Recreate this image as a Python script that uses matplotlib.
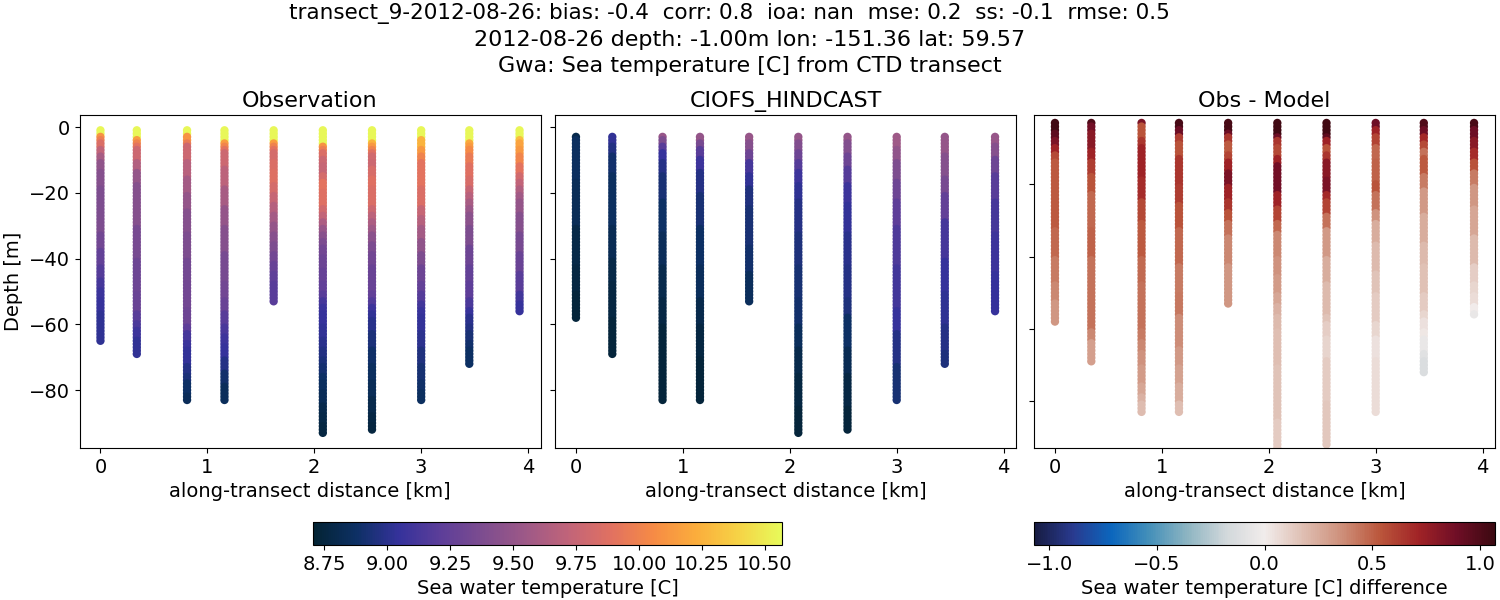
import numpy as np
import matplotlib
matplotlib.use('Agg')
import matplotlib.pyplot as plt
from matplotlib.colors import LinearSegmentedColormap

# colour anchors for cmocean thermal / balance (cmocean not available here)
thermal_rgb = [(3, 35, 51), (13, 48, 100), (53, 50, 155), (93, 62, 153), (126, 77, 143), (158, 89, 135),
               (193, 100, 121), (225, 113, 97), (246, 139, 69), (251, 173, 60), (246, 211, 70), (231, 250, 90)]
balance_rgb = [(23, 28, 66), (41, 58, 143), (11, 102, 189), (69, 144, 185), (142, 181, 194), (210, 216, 219),
               (241, 236, 235), (223, 191, 179), (206, 144, 123), (187, 87, 60), (161, 36, 38), (112, 14, 38), (60, 9, 17)]

distance = [0.0, 0.34, 0.81, 1.16, 1.62, 2.08, 2.54, 3.0, 3.45, 3.92]

# each cast is in bands: value holds from the previous bottom down to this bottom, 1 m levels
obs_bottom = [
    [2, 3, 4, 6, 8, 10, 13, 18, 32, 37, 42, 46, 49, 52, 56, 65],
    [3, 4, 5, 6, 10, 13, 17, 30, 40, 50, 56, 59, 61, 64, 69],
    [2, 4, 5, 10, 15, 20, 25, 32, 40, 47, 55, 60, 62, 65, 67, 72, 75, 77, 81, 83],
    [4, 5, 6, 7, 12, 18, 24, 30, 38, 47, 52, 56, 60, 63, 66, 70, 74, 78, 83],
    [4, 5, 6, 7, 10, 13, 17, 20, 23, 26, 29, 32, 35, 38, 41, 44, 47, 53],
    [5, 6, 7, 9, 11, 14, 16, 19, 24, 26, 28, 30, 32, 34, 36, 39, 43, 47, 50, 52, 54, 56, 60, 64, 67, 70, 72, 75, 77, 80, 84, 87, 90, 93],
    [4, 5, 6, 7, 8, 10, 12, 15, 18, 24, 26, 28, 30, 32, 35, 38, 42, 47, 50, 52, 54, 56, 58, 62, 67, 72, 77, 82, 87, 90, 92],
    [3, 6, 8, 10, 14, 18, 24, 27, 30, 34, 38, 42, 47, 50, 53, 55, 57, 62, 67, 72, 77, 80, 83],
    [4, 5, 6, 8, 11, 15, 18, 20, 22, 24, 26, 30, 36, 42, 47, 52, 55, 57, 60, 62, 65, 67, 72],
    [3, 4, 6, 8, 11, 14, 16, 18, 20, 22, 26, 32, 38, 44, 50, 53, 56],
]
obs_temp = [
    [10.55, 10.1, 9.98, 9.85, 9.72, 9.6, 9.48, 9.42, 9.38, 9.32, 9.25, 9.18, 9.12, 9.07, 9.05, 9.02],
    [10.55, 10.15, 10.0, 9.9, 9.78, 9.65, 9.5, 9.42, 9.35, 9.3, 9.28, 9.2, 9.14, 9.08, 9.03],
    [10.55, 10.1, 9.95, 9.78, 9.68, 9.58, 9.5, 9.42, 9.38, 9.33, 9.32, 9.3, 9.22, 9.12, 9.07, 9.04, 8.98, 8.94, 8.88, 8.84],
    [10.55, 10.15, 10.02, 9.9, 9.78, 9.7, 9.6, 9.5, 9.42, 9.35, 9.32, 9.28, 9.2, 9.13, 9.08, 9.05, 8.98, 8.9, 8.85],
    [10.55, 10.15, 10.0, 9.9, 9.82, 9.85, 9.87, 9.82, 9.75, 9.66, 9.58, 9.5, 9.43, 9.38, 9.32, 9.27, 9.23, 9.2],
    [10.55, 10.1, 9.98, 9.85, 9.77, 9.75, 9.82, 9.9, 9.87, 9.8, 9.73, 9.62, 9.52, 9.44, 9.37, 9.32, 9.29, 9.26, 9.24, 9.2, 9.12, 9.07, 9.05, 9.03, 9.0, 8.97, 8.94, 8.91, 8.88, 8.86, 8.83, 8.8, 8.78, 8.76],
    [10.55, 10.25, 10.12, 10.0, 9.88, 9.8, 9.78, 9.84, 9.88, 9.85, 9.78, 9.7, 9.62, 9.55, 9.45, 9.37, 9.32, 9.28, 9.27, 9.24, 9.17, 9.08, 9.03, 8.99, 8.94, 8.89, 8.86, 8.83, 8.8, 8.77, 8.75],
    [10.55, 10.25, 10.12, 10.0, 9.9, 9.9, 9.85, 9.75, 9.67, 9.58, 9.48, 9.38, 9.3, 9.25, 9.18, 9.1, 9.06, 9.04, 9.01, 8.96, 8.92, 8.89, 8.86],
    [10.55, 10.2, 10.13, 10.05, 9.95, 9.88, 9.84, 9.75, 9.68, 9.6, 9.53, 9.45, 9.38, 9.3, 9.25, 9.22, 9.14, 9.06, 9.0, 8.97, 8.93, 8.9, 8.87],
    [10.55, 10.3, 10.18, 10.12, 10.02, 9.9, 9.8, 9.72, 9.64, 9.57, 9.5, 9.42, 9.35, 9.28, 9.2, 9.1, 9.05],
]

model_bottom = [
    [3, 16, 30, 42, 50, 58],
    [5, 8, 14, 30, 40, 47, 58, 69],
    [3, 5, 7, 10, 14, 22, 32, 42, 52, 60, 83],
    [4, 6, 9, 13, 20, 30, 42, 52, 60, 70, 83],
    [4, 7, 10, 14, 18, 24, 36, 44, 53],
    [4, 7, 10, 13, 17, 22, 32, 42, 52, 60, 67, 75, 85, 93],
    [4, 8, 12, 17, 23, 32, 42, 52, 57, 67, 75, 85, 92],
    [6, 10, 16, 22, 30, 42, 55, 62, 72, 83],
    [8, 15, 20, 28, 40, 50, 60, 68, 72],
    [5, 9, 14, 22, 32, 44, 56],
]
model_temp = [
    [8.8, 8.86, 8.83, 8.78, 8.76, 8.74],
    [9.03, 8.97, 8.9, 8.86, 8.82, 8.78, 8.76, 8.74],
    [9.52, 9.38, 9.2, 9.05, 8.98, 8.93, 8.88, 8.84, 8.8, 8.77, 8.74],
    [9.5, 9.35, 9.2, 9.08, 8.98, 8.93, 8.88, 8.85, 8.8, 8.76, 8.74],
    [9.52, 9.42, 9.3, 9.12, 9.03, 8.96, 8.93, 8.9, 8.85],
    [9.5, 9.4, 9.3, 9.18, 9.08, 9.02, 8.98, 8.95, 8.92, 8.9, 8.85, 8.8, 8.76, 8.74],
    [9.5, 9.4, 9.3, 9.18, 9.08, 9.04, 9.0, 8.98, 8.95, 8.88, 8.82, 8.77, 8.74],
    [9.55, 9.48, 9.38, 9.3, 9.22, 9.15, 9.1, 9.05, 8.98, 8.92],
    [9.5, 9.42, 9.35, 9.25, 9.12, 9.05, 9.02, 8.98, 8.95],
    [9.52, 9.42, 9.3, 9.2, 9.12, 9.08, 9.05],
]

diff_bottom = [
    [5, 7, 9, 11, 13, 32, 40, 47, 52, 58],
    [3, 5, 10, 13, 17, 22, 32, 40, 60, 63, 69],
    [3, 7, 9, 18, 24, 30, 40, 47, 60, 63, 66, 70, 75, 78, 80, 83],
    [4, 6, 8, 12, 20, 25, 32, 42, 50, 56, 65, 70, 75, 80, 83],
    [5, 6, 8, 11, 13, 16, 20, 24, 27, 30, 34, 42, 53],
    [6, 7, 9, 12, 14, 22, 26, 30, 33, 40, 45, 50, 53, 56, 60, 70, 85, 93],
    [6, 7, 9, 11, 13, 18, 22, 24, 28, 32, 40, 47, 56, 58, 62, 68, 80, 92],
    [4, 6, 9, 13, 19, 22, 27, 30, 36, 44, 50, 58, 62, 68, 83],
    [4, 6, 8, 10, 12, 17, 21, 28, 36, 42, 50, 55, 57, 60, 62, 66, 68, 72],
    [4, 7, 10, 13, 16, 20, 26, 34, 42, 47, 50, 53, 55, 56],
]
diff_temp = [
    [1.05, 0.95, 0.85, 0.72, 0.58, 0.52, 0.48, 0.42, 0.38, 0.33],
    [1.0, 0.88, 0.8, 0.72, 0.62, 0.55, 0.48, 0.5, 0.45, 0.38, 0.3],
    [0.85, 0.55, 0.65, 0.72, 0.68, 0.58, 0.52, 0.47, 0.45, 0.42, 0.38, 0.35, 0.31, 0.27, 0.23, 0.19],
    [1.02, 0.9, 0.62, 0.55, 0.65, 0.62, 0.55, 0.48, 0.42, 0.43, 0.36, 0.32, 0.29, 0.25, 0.18],
    [1.02, 0.9, 0.65, 0.52, 0.6, 0.72, 0.85, 0.72, 0.65, 0.55, 0.45, 0.38, 0.33],
    [1.05, 0.9, 0.65, 0.58, 0.72, 0.88, 0.72, 0.6, 0.48, 0.38, 0.35, 0.31, 0.27, 0.23, 0.2, 0.18, 0.16, 0.13],
    [1.05, 0.95, 0.72, 0.55, 0.65, 0.8, 0.85, 0.7, 0.6, 0.45, 0.32, 0.25, 0.2, 0.16, 0.12, 0.1, 0.13, 0.15],
    [0.9, 0.72, 0.6, 0.48, 0.5, 0.55, 0.45, 0.35, 0.25, 0.2, 0.16, 0.13, 0.09, 0.05, 0.06],
    [1.0, 0.9, 0.7, 0.58, 0.45, 0.52, 0.42, 0.32, 0.25, 0.2, 0.17, 0.13, 0.09, 0.05, 0.02, -0.05, -0.1, -0.13],
    [1.02, 0.9, 0.8, 0.68, 0.55, 0.42, 0.33, 0.27, 0.2, 0.12, 0.09, 0.06, 0.0, -0.05],
]

obs_top = 1
model_top = 3

title_line1 = 'transect_9-2012-08-26: bias: -0.4  corr: 0.8  ioa: nan  mse: 0.2  ss: -0.1  rmse: 0.5'
title_line2 = '2012-08-26 depth: -1.00m lon: -151.36 lat: 59.57'
title_line3 = 'Gwa: Sea temperature [C] from CTD transect'


def make_cmap(name, rgb):
    return LinearSegmentedColormap.from_list(name, [(r / 255, g / 255, b / 255) for r, g, b in rgb], N=256)


def expand(bottoms, values, top):
    # turn the bands into one point per metre, x/y/c for scatter
    xs, ys, cs = [], [], []
    for x, bot, val in zip(distance, bottoms, values):
        prev = top - 1
        for b, v in zip(bot, val):
            for d in range(prev + 1, b + 1):
                xs.append(x)
                ys.append(-d)
                cs.append(v)
            prev = b
    return xs, ys, cs


def px_axes(fig, x0, y0, x1, y1):
    return fig.add_axes([x0 / 1500, 1 - y1 / 600, (x1 - x0) / 1500, (y1 - y0) / 600])


plt.rcParams['font.size'] = 14

thermal = make_cmap('thermal', thermal_rgb)
balance = make_cmap('balance', balance_rgb)

fig = plt.figure(figsize=(15, 6), dpi=100)
ax1 = px_axes(fig, 79.5, 115, 540.5, 448)
ax2 = px_axes(fig, 555, 115, 1016, 448)
ax3 = px_axes(fig, 1034, 115, 1495, 448)

x, y, c = expand(obs_bottom, obs_temp, obs_top)
sc1 = ax1.scatter(x, y, c=c, cmap=thermal, vmin=8.706, vmax=10.567, s=36, linewidths=0)
x, y, c = expand(model_bottom, model_temp, model_top)
ax2.scatter(x, y, c=c, cmap=thermal, vmin=8.706, vmax=10.567, s=36, linewidths=0)
x, y, c = expand(diff_bottom, diff_temp, model_top)
sc3 = ax3.scatter(x, y, c=c, cmap=balance, vmin=-1.07, vmax=1.07, s=36, linewidths=0)

for ax in (ax1, ax2, ax3):
    ax.set_xlim(-0.196, 4.116)
    ax.set_xlabel('along-transect distance [km]')
ax1.set_ylim(-97.6, 3.65)
ax2.set_ylim(-97.6, 3.65)
ax3.set_ylim(-93, -0.8)
ax3.set_yticks([-80, -60, -40, -20])
ax1.set_yticks([-80, -60, -40, -20, 0])
ax2.set_yticks([-80, -60, -40, -20, 0])
ax2.set_yticklabels([])
ax3.set_yticklabels([])
ax1.set_ylabel('Depth [m]')

ax1.set_title('Observation', fontsize=16)
ax2.set_title('CIOFS_HINDCAST', fontsize=16)
ax3.set_title('Obs - Model', fontsize=16)

cax1 = px_axes(fig, 313, 522, 782, 545)
cb1 = fig.colorbar(sc1, cax=cax1, orientation='horizontal')
cb1.set_ticks([8.75, 9.0, 9.25, 9.5, 9.75, 10.0, 10.25, 10.5])
cb1.set_label('Sea water temperature [C]')

cax2 = px_axes(fig, 1034, 522, 1495, 545)
cb2 = fig.colorbar(sc3, cax=cax2, orientation='horizontal')
cb2.set_ticks([-1.0, -0.5, 0.0, 0.5, 1.0])
cb2.set_label('Sea water temperature [C] difference')

fig.text(729 / 1500, 1 - 14 / 600, title_line1, ha='center', va='center', fontsize=15.5)
fig.text(749.5 / 1500, 1 - 40 / 600, title_line2, ha='center', va='center', fontsize=16)
fig.text(749.5 / 1500, 1 - 66 / 600, title_line3, ha='center', va='center', fontsize=16)

fig.savefig('out.png', dpi=100)
